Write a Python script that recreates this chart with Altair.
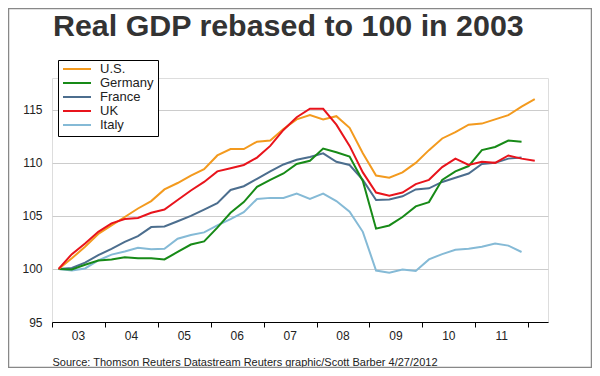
import altair as alt
import pandas as pd

# ---- data (quarterly, rebased to 100 in 2003Q1) ----
series_names = ["U.S.", "Germany", "France", "UK", "Italy"]
series_colors = ["#F39A1E", "#178A17", "#4C6E8E", "#E8141C", "#85BAD6"]
draw_order = ["Italy", "France", "Germany", "U.S.", "UK"]

start_year = 2003
year_ticks = list(range(2003, 2013))
y_ticks = [95, 100, 105, 110, 115]

us = [100.0, 101.0, 102.1, 103.3, 104.1, 104.9, 105.7, 106.4, 107.5, 108.1,
      108.8, 109.4, 110.7, 111.3, 111.3, 112.0, 112.1, 113.2, 114.1, 114.5,
      114.1, 114.4, 113.3, 110.9, 108.8, 108.6, 109.1, 110.0, 111.2, 112.3,
      112.9, 113.6, 113.7, 114.1, 114.5, 115.3, 116.0]
uk = [100.0, 101.4, 102.4, 103.5, 104.3, 104.7, 104.8, 105.3, 105.6, 106.5,
      107.4, 108.2, 109.2, 109.5, 109.8, 110.5, 111.6, 113.1, 114.3, 115.1,
      115.1, 113.6, 111.6, 109.1, 107.2, 106.9, 107.2, 108.0, 108.4, 109.6,
      110.4, 109.8, 110.1, 110.0, 110.7, 110.4, 110.2]
germany = [100.0, 99.95, 100.4, 100.8, 100.9, 101.1, 101.0, 101.0, 100.9, 101.6,
           102.3, 102.6, 103.9, 105.3, 106.3, 107.75, 108.4, 109.0, 109.9, 110.2,
           111.35, 111.0, 110.6, 108.3, 103.8, 104.1, 104.9, 105.9, 106.3, 108.4,
           109.2, 109.7, 111.2, 111.5, 112.1, 112.0]
france = [100.0, 100.1, 100.6, 101.3, 101.9, 102.55, 103.1, 103.95, 104.0, 104.5,
          105.0, 105.6, 106.2, 107.45, 107.8, 108.5, 109.2, 109.85, 110.3, 110.55,
          110.9, 110.1, 109.8, 108.4, 106.5, 106.55, 106.85, 107.5, 107.6, 108.2,
          108.6, 109.0, 109.9, 110.0, 110.4, 110.5]
italy = [100.0, 99.85, 100.05, 100.8, 101.35, 101.65, 102.0, 101.85, 101.9, 102.85,
         103.2, 103.45, 104.1, 104.7, 105.35, 106.6, 106.7, 106.7, 107.1, 106.6,
         107.1, 106.4, 105.4, 103.5, 99.85, 99.65, 99.95, 99.8, 100.9, 101.4,
         101.8, 101.9, 102.1, 102.4, 102.2, 101.6]

title_text = "Real GDP rebased to 100 in 2003"
source_text = "Source: Thomson Reuters Datastream Reuters graphic/Scott Barber 4/27/2012"

values_by_name = {"U.S.": us, "Germany": germany, "France": france, "UK": uk, "Italy": italy}
rows = []
for name in draw_order:
    for i, v in enumerate(values_by_name[name]):
        # each quarter plotted at its mid-point
        rows.append({"series": name, "t": start_year + 0.125 + 0.25 * i, "value": v})
df = pd.DataFrame(rows)

FONT = "Liberation Sans"
pad_spaces = "\u00a0" * 10

lines = alt.Chart(df).mark_line(strokeWidth=2).encode(
    x=alt.X(
        "t:Q",
        scale=alt.Scale(domain=[2003, 2012.375], nice=False, zero=False),
        axis=alt.Axis(
            values=year_ticks, format="d",
            labelExpr="datum.value >= 2012 ? '' : slice(datum.label, 2)",
            labelOffset=26, labelFlush=False, labelOverlap=False,
            grid=False, tickSize=5, tickColor="black", domainColor="black",
            labelFontSize=12, labelColor="#222222", labelFont=FONT, labelPadding=3,
            title=source_text, titleAnchor="start", titleAlign="left",
            titleX=0, titleY=43, titleBaseline="alphabetic",
            titleFontWeight="normal", titleFontSize=11, titleColor="#222222",
            titleFont=FONT,
        ),
    ),
    y=alt.Y(
        "value:Q",
        scale=alt.Scale(domain=[95, 118], nice=False, zero=False),
        axis=alt.Axis(
            values=y_ticks, grid=True, gridColor="#cccccc", ticks=False,
            domain=False, labelPadding=10, labelFontSize=12, labelFont=FONT,
            labelColor="#222222", title=None,
        ),
    ),
    color=alt.Color(
        "series:N",
        scale=alt.Scale(domain=series_names, range=series_colors),
        legend=alt.Legend(
            title=None, orient="none", legendX=6, legendY=-18,
            symbolType="stroke", symbolSize=784, symbolStrokeWidth=2,
            clipHeight=10, rowPadding=1, labelFontSize=13, labelFont=FONT,
            labelColor="#222222", labelOffset=8, padding=4,
            strokeColor="black", fillColor="white",
            labelExpr="datum.label + '" + pad_spaces + "'",
        ),
    ),
)

title_mark = alt.Chart(pd.DataFrame({"text": [title_text]})).mark_text(
    align="left", baseline="alphabetic", fontSize=30.4, font=FONT,
    fontWeight="bold", color="#333333",
).encode(x=alt.value(1), y=alt.value(-42.2), text="text:N")

frame = alt.Chart(pd.DataFrame({"k": [0]})).mark_rect(
    fill=None, stroke="#888888", strokeWidth=1.5
).encode(
    x=alt.value(-43.5), x2=alt.value(539.5), y=alt.value(-69.5), y2=alt.value(289.5)
)

chart = alt.layer(lines, title_mark, frame).properties(
    width=496,
    height=244,
    autosize=alt.AutoSizeParams(type="none"),
    padding={"left": 44, "top": 70, "right": 44, "bottom": 46},
).configure_view(stroke=None).configure(font=FONT)

chart.save("out.html", embed_options={"renderer": "svg", "actions": False})
